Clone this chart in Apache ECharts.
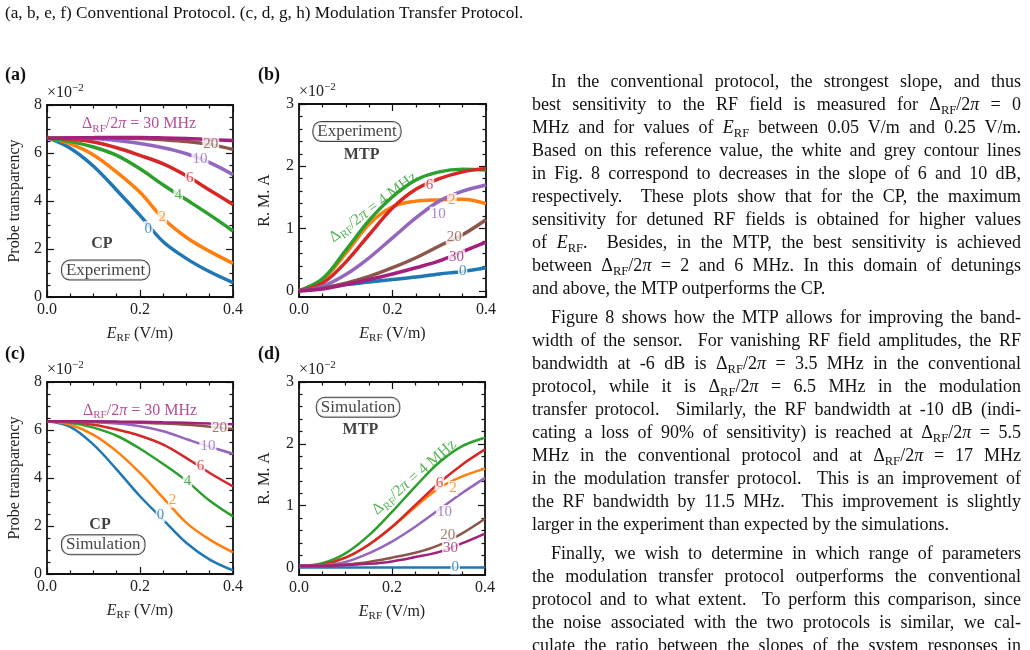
<!DOCTYPE html>
<html>
<head>
<meta charset="utf-8">
<script src="https://cdn.jsdelivr.net/npm/echarts@6/dist/echarts.min.js"></script>
<style>
  html, body { margin: 0; padding: 0; background: #fff; }
  body { width: 1030px; height: 650px; overflow: hidden; position: relative;
         font-family: 'Liberation Serif', 'Times New Roman', serif; color: #111; }
  #chart { position: absolute; left: 0; top: 0; width: 1030px; height: 650px; }
  .caption { position: absolute; left: 5px; top: 2px; font-size: 17.2px; line-height: 22px; white-space: nowrap; }
  .para { position: absolute; left: 532px; width: 489px; font-size: 18px; line-height: 23px; }
  .para div { text-align: justify; text-align-last: justify; }
  .para div.first { text-indent: 19px; }
  .para div.last { text-align-last: left; }
  sub { font-size: 70%; vertical-align: -0.3em; line-height: 0; }
</style>
</head>
<body>
<div id="chart"></div>

<div class="caption">(a, b, e, f) Conventional Protocol. (c, d, g, h) Modulation Transfer Protocol.</div>

<div class="para" style="top: 70px;">
  <div class="first">In the conventional protocol, the strongest slope, and thus</div>
  <div>best sensitivity to the RF field is measured for &Delta;<sub>RF</sub>/2<i>&pi;</i> = 0</div>
  <div>MHz and for values of <i>E</i><sub>RF</sub> between 0.05 V/m and 0.25 V/m.</div>
  <div>Based on this reference value, the white and grey contour lines</div>
  <div>in Fig. 8 correspond to decreases in the slope of 6 and 10 dB,</div>
  <div>respectively.&nbsp; These plots show that for the CP, the maximum</div>
  <div>sensitivity for detuned RF fields is obtained for higher values</div>
  <div>of <i>E</i><sub>RF</sub>.&nbsp; Besides, in the MTP, the best sensitivity is achieved</div>
  <div>between &Delta;<sub>RF</sub>/2<i>&pi;</i> = 2 and 6 MHz. In this domain of detunings</div>
  <div class="last">and above, the MTP outperforms the CP.</div>
</div>

<div class="para" style="top: 306px;">
  <div class="first">Figure 8 shows how the MTP allows for improving the band-</div>
  <div>width of the sensor.&nbsp; For vanishing RF field amplitudes, the RF</div>
  <div>bandwidth at -6 dB is &Delta;<sub>RF</sub>/2<i>&pi;</i> = 3.5 MHz in the conventional</div>
  <div>protocol, while it is &Delta;<sub>RF</sub>/2<i>&pi;</i> = 6.5 MHz in the modulation</div>
  <div>transfer protocol.&nbsp; Similarly, the RF bandwidth at -10 dB (indi-</div>
  <div>cating a loss of 90% of sensitivity) is reached at &Delta;<sub>RF</sub>/2<i>&pi;</i> = 5.5</div>
  <div>MHz in the conventional protocol and at &Delta;<sub>RF</sub>/2<i>&pi;</i> = 17 MHz</div>
  <div>in the modulation transfer protocol.&nbsp; This is an improvement of</div>
  <div>the RF bandwidth by 11.5 MHz.&nbsp; This improvement is slightly</div>
  <div class="last">larger in the experiment than expected by the simulations.</div>
</div>

<div class="para" style="top: 542px;">
  <div class="first">Finally, we wish to determine in which range of parameters</div>
  <div>the modulation transfer protocol outperforms the conventional</div>
  <div>protocol and to what extent.&nbsp; To perform this comparison, since</div>
  <div>the noise associated with the two protocols is similar, we cal-</div>
  <div>culate the ratio between the slopes of the system responses in</div>
</div>

<script>
// E_RF sample points (V/m)
const ERF = [0, 0.05, 0.1, 0.15, 0.2, 0.25, 0.3, 0.35, 0.4];
// detuning Δ_RF/2π in MHz, same order as the colours
const DETUNINGS = ['0', '2', '4', '6', '10', '20', '30'];
const COLORS = ['#1f77b4', '#ff7f0e', '#2ca02c', '#d62728', '#9467bd', '#8c564b', '#a3207c'];

// (a) CP, experiment – probe transparency x1e-2
const expCP0  = [6.65, 6.20, 5.45, 4.45, 3.40, 2.30, 1.60, 1.05, 0.60];
const expCP2  = [6.65, 6.38, 5.92, 5.20, 4.36, 3.27, 2.48, 1.90, 1.40];
const expCP4  = [6.65, 6.48, 6.25, 5.90, 5.34, 4.67, 4.05, 3.42, 2.75];
const expCP6  = [6.65, 6.58, 6.46, 6.22, 5.90, 5.55, 5.05, 4.45, 3.85];
const expCP10 = [6.62, 6.62, 6.60, 6.52, 6.40, 6.22, 5.97, 5.60, 5.10];
const expCP20 = [6.62, 6.63, 6.64, 6.63, 6.60, 6.55, 6.48, 6.36, 6.15];
const expCP30 = [6.60, 6.62, 6.64, 6.65, 6.65, 6.63, 6.60, 6.56, 6.52];

// (b) MTP, experiment – R.M.A x1e-2
const expMTP0  = [0.00, 0.05, 0.10, 0.14, 0.18, 0.22, 0.27, 0.31, 0.37];
const expMTP2  = [0.00, 0.17, 0.60, 1.07, 1.35, 1.44, 1.46, 1.47, 1.40];
const expMTP4  = [0.00, 0.19, 0.65, 1.13, 1.51, 1.78, 1.91, 1.95, 1.94];
const expMTP6  = [0.00, 0.12, 0.46, 0.90, 1.33, 1.63, 1.80, 1.91, 1.97];
const expMTP10 = [0.00, 0.07, 0.26, 0.53, 0.85, 1.17, 1.44, 1.60, 1.70];
const expMTP20 = [0.00, 0.04, 0.12, 0.23, 0.37, 0.53, 0.72, 0.90, 1.14];
const expMTP30 = [0.00, 0.03, 0.10, 0.18, 0.27, 0.37, 0.48, 0.63, 0.78];

// (c) CP, simulation
const simCP0  = [6.36, 6.13, 5.39, 4.35, 3.24, 2.26, 1.29, 0.60, 0.15];
const simCP2  = [6.36, 6.22, 5.80, 5.11, 4.21, 3.17, 2.13, 1.43, 0.90];
const simCP4  = [6.36, 6.30, 6.10, 5.76, 5.22, 4.58, 3.88, 3.05, 2.40];
const simCP6  = [6.36, 6.33, 6.22, 6.02, 5.76, 5.39, 4.83, 4.21, 3.65];
const simCP10 = [6.36, 6.35, 6.32, 6.27, 6.16, 5.95, 5.62, 5.30, 5.01];
const simCP20 = [6.36, 6.36, 6.35, 6.33, 6.30, 6.27, 6.22, 6.14, 6.04];
const simCP30 = [6.36, 6.36, 6.36, 6.35, 6.34, 6.32, 6.30, 6.27, 6.24];

// (d) MTP, simulation
const simMTP0  = [0.00, 0.00, 0.00, 0.00, 0.00, 0.00, 0.00, 0.00, 0.00];
const simMTP2  = [0.03, 0.05, 0.16, 0.37, 0.65, 0.98, 1.28, 1.47, 1.60];
const simMTP4  = [0.03, 0.07, 0.23, 0.52, 0.90, 1.31, 1.69, 1.96, 2.10];
const simMTP6  = [0.03, 0.05, 0.16, 0.37, 0.66, 1.01, 1.36, 1.66, 1.91];
const simMTP10 = [0.03, 0.04, 0.09, 0.23, 0.42, 0.66, 0.93, 1.20, 1.45];
const simMTP20 = [0.03, 0.03, 0.05, 0.09, 0.16, 0.24, 0.36, 0.55, 0.79];
const simMTP30 = [0.03, 0.03, 0.04, 0.06, 0.10, 0.17, 0.25, 0.39, 0.55];

// ticks
const X_MAJOR = [0, 0.2, 0.4];
const X_MINOR = [0.05, 0.1, 0.15, 0.25, 0.3, 0.35];
const CP_MAJOR = [0, 2, 4, 6, 8];
const CP_MINOR = [0.5, 1, 1.5, 2.5, 3, 3.5, 4.5, 5, 5.5, 6.5, 7, 7.5];
const MTP_MAJOR = [0, 1, 2, 3];
const MTP_MINOR = [0.2, 0.4, 0.6, 0.8, 1.2, 1.4, 1.6, 1.8, 2.2, 2.4, 2.6, 2.8];

// inline curve labels: [detuning, E_RF, value]
const tagsA = [['0', 0.218, 2.85], ['2', 0.248, 3.35], ['4', 0.282, 4.25], ['6', 0.307, 4.95], ['10', 0.329, 5.76], ['20', 0.352, 6.36]];
const tagsB = [['6', 0.279, 1.70], ['2', 0.327, 1.45], ['10', 0.298, 1.23], ['20', 0.332, 0.87], ['30', 0.337, 0.54], ['0', 0.350, 0.32]];
const tagsC = [['0', 0.244, 2.47], ['2', 0.270, 3.07], ['4', 0.302, 3.86], ['6', 0.330, 4.51], ['10', 0.346, 5.32], ['20', 0.371, 6.08]];
const tagsD = [['6', 0.302, 1.36], ['2', 0.331, 1.28], ['10', 0.313, 0.89], ['20', 0.320, 0.52], ['30', 0.326, 0.31], ['0', 0.336, 0.01]];

const SERIF = 'Liberation Serif';

function mathRich(size, color) {
    const sub = Math.round(size * 0.7);
    return {
        n: { fontFamily: SERIF, fontSize: size, lineHeight: size + 4, color: color, verticalAlign: 'middle' },
        i: { fontFamily: SERIF, fontSize: size, lineHeight: size + 4, color: color, fontStyle: 'italic', verticalAlign: 'middle' },
        s: { fontFamily: SERIF, fontSize: sub, lineHeight: sub, color: color, verticalAlign: 'bottom' },
        p: { fontFamily: SERIF, fontSize: sub, lineHeight: sub, color: color, verticalAlign: 'top' }
    };
}

const grids = [
    { left: 47, top: 105, width: 186, height: 192 },
    { left: 299, top: 104, width: 187, height: 193 },
    { left: 47, top: 382, width: 186, height: 192 },
    { left: 299, top: 382, width: 186, height: 193 }
];

const xAxes = [];
const yAxes = [];

// one axis that draws the frame side + major ticks, one that draws the minor ticks
function axisPair(gi, pos, min, max, majors, minors, labelFmt, name, nameCfg, minorName, minorNameCfg) {
    const tickStyle = { color: '#111', width: 1.2 };
    const main = {
        gridIndex: gi, type: 'value', position: pos, min: min, max: max,
        axisLine: { show: true, onZero: false, lineStyle: { color: '#111', width: 1.8 } },
        axisTick: { show: true, inside: true, length: 7, customValues: majors, lineStyle: tickStyle },
        axisLabel: labelFmt ? {
            show: true, customValues: majors, formatter: labelFmt,
            fontFamily: SERIF, fontSize: 16, color: '#222', margin: 5
        } : { show: false },
        splitLine: { show: false }
    };
    if (name) Object.assign(main, { name: name }, nameCfg);
    const minor = {
        gridIndex: gi, type: 'value', position: pos, min: min, max: max,
        axisLine: { show: false, onZero: false },
        axisTick: { show: true, inside: true, length: 3.5, customValues: minors, lineStyle: tickStyle },
        axisLabel: { show: false },
        splitLine: { show: false }
    };
    if (minorName) Object.assign(minor, { name: minorName }, minorNameCfg);
    return [main, minor];
}

const xName = {
    nameLocation: 'middle', nameGap: 27,
    nameTextStyle: { rich: mathRich(16, '#222') }
};
const expName = {
    nameLocation: 'end', nameGap: 2,
    nameTextStyle: { align: 'left', verticalAlign: 'bottom', rich: mathRich(16, '#222') }
};

function buildAxes(gi, yMin, yMax, yMajor, yMinor, yName, yGap) {
    xAxes.push(...axisPair(gi, 'bottom', 0, 0.4, X_MAJOR, X_MINOR, v => v.toFixed(1),
        '{i|E}{s|RF}{n| (V/m)}', xName));
    xAxes.push(...axisPair(gi, 'top', 0, 0.4, X_MAJOR, X_MINOR, null));
    yAxes.push(...axisPair(gi, 'left', yMin, yMax, yMajor, yMinor, v => String(v),
        yName, { nameLocation: 'middle', nameGap: yGap, nameTextStyle: { fontFamily: SERIF, fontSize: 16, color: '#222' } },
        '{n|×10}{p|−2}', expName));
    yAxes.push(...axisPair(gi, 'right', yMin, yMax, yMajor, yMinor, null));
}

buildAxes(0, 0, 8, CP_MAJOR, CP_MINOR, 'Probe transparency', 24);
buildAxes(1, -0.1, 3, MTP_MAJOR, MTP_MINOR, 'R. M. A', 26);
buildAxes(2, 0, 8, CP_MAJOR, CP_MINOR, 'Probe transparency', 24);
buildAxes(3, -0.12, 3, MTP_MAJOR, MTP_MINOR, 'R. M. A', 26);

function lineSeries(gi, arrays, width) {
    return arrays.map((arr, k) => ({
        type: 'line', xAxisIndex: 4 * gi, yAxisIndex: 4 * gi,
        data: ERF.map((x, i) => [x, arr[i]]),
        smooth: 0.35, symbol: 'none', showSymbol: false, silent: true,
        lineStyle: { color: COLORS[k], width: width },
        z: 2 + k
    }));
}

function textItem(x, y, label) {
    return { value: [x, y], label: Object.assign({ show: true, position: 'inside' }, label) };
}

function tagSeries(gi, tags, head, box, proto) {
    const items = tags.map(t => {
        const c = COLORS[DETUNINGS.indexOf(t[0])];
        return textItem(t[1], t[2], {
            formatter: t[0], color: c, fontFamily: SERIF, fontSize: 15,
            backgroundColor: '#fff', padding: [0, 1, 0, 1]
        });
    });
    const hc = COLORS[DETUNINGS.indexOf(head.det)];
    items.push(textItem(head.x, head.y, {
        formatter: '{n|Δ}{s|RF}{n|/2}{i|π}{n| = ' + head.det + ' MHz}',
        rich: mathRich(16, hc), rotate: head.rotate || 0
    }));
    items.push(textItem(box.x, box.y, {
        formatter: box.text, fontFamily: SERIF, fontSize: 17, color: '#111',
        borderColor: '#111', borderWidth: 1, borderRadius: 8, padding: [2, 4, 0, 4], backgroundColor: '#fff'
    }));
    items.push(textItem(proto.x, proto.y, {
        formatter: proto.text, fontFamily: SERIF, fontSize: 16, fontWeight: 'bold', color: '#111'
    }));
    return {
        type: 'scatter', xAxisIndex: 4 * gi, yAxisIndex: 4 * gi,
        symbolSize: 1, itemStyle: { color: 'rgba(0,0,0,0)' }, silent: true, z: 20,
        data: items
    };
}

const series = [].concat(
    lineSeries(0, [expCP0, expCP2, expCP4, expCP6, expCP10, expCP20, expCP30], 3.5),
    lineSeries(1, [expMTP0, expMTP2, expMTP4, expMTP6, expMTP10, expMTP20, expMTP30], 3.5),
    lineSeries(2, [simCP0, simCP2, simCP4, simCP6, simCP10, simCP20, simCP30], 2.5),
    lineSeries(3, [simMTP0, simMTP2, simMTP4, simMTP6, simMTP10, simMTP20, simMTP30], 2.5),
    [
        tagSeries(0, tagsA, { det: '30', x: 0.198, y: 7.2 }, { text: 'Experiment', x: 0.126, y: 1.12 }, { text: 'CP', x: 0.118, y: 2.2 }),
        tagSeries(1, tagsB, { det: '4', x: 0.159, y: 1.34, rotate: 37 }, { text: 'Experiment', x: 0.124, y: 2.56 }, { text: 'MTP', x: 0.134, y: 2.18 }),
        tagSeries(2, tagsC, { det: '30', x: 0.2, y: 6.8 }, { text: 'Simulation', x: 0.121, y: 1.22 }, { text: 'CP', x: 0.114, y: 2.06 }),
        tagSeries(3, tagsD, { det: '4', x: 0.248, y: 1.46, rotate: 41 }, { text: 'Simulation', x: 0.127, y: 2.59 }, { text: 'MTP', x: 0.132, y: 2.23 })
    ]
);

const panelLetters = [['(a)', 5, 66], ['(b)', 258, 66], ['(c)', 5, 345], ['(d)', 258, 345]];

const chart = echarts.init(document.getElementById('chart'));
chart.setOption({
    animation: false,
    grid: grids,
    xAxis: xAxes,
    yAxis: yAxes,
    series: series,
    graphic: panelLetters.map(p => ({
        type: 'text', left: p[1], top: p[2],
        style: { text: p[0], fontFamily: SERIF, fontSize: 18, fontWeight: 'bold', fill: '#111' }
    }))
});
</script>
</body>
</html>
